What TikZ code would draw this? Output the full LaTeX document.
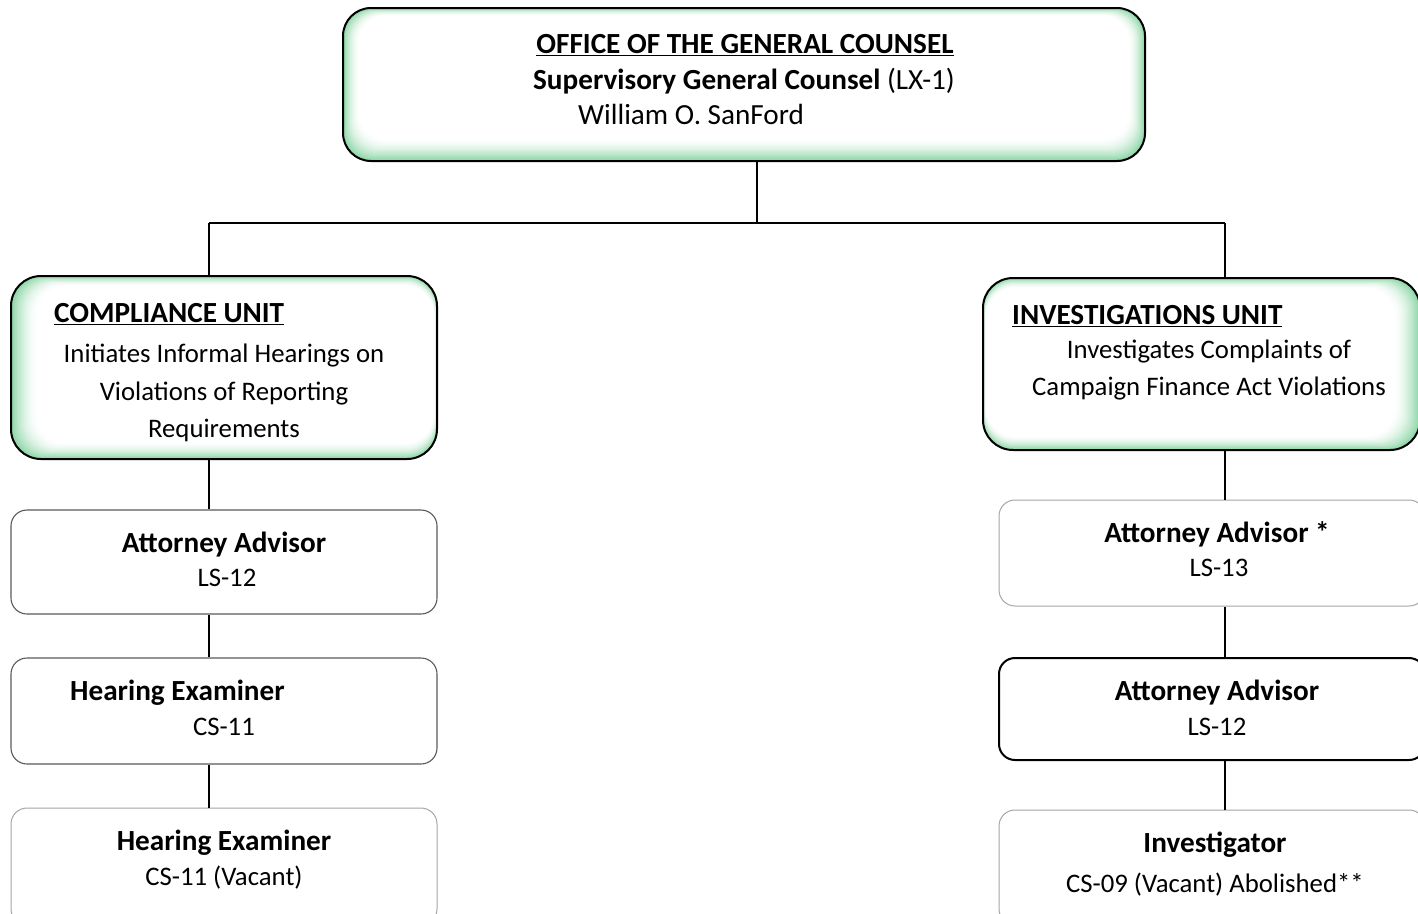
\documentclass[tikz,border=0pt]{standalone}
\usepackage{fontspec}
\setmainfont{Carlito}
\definecolor{glowgreen}{RGB}{140,214,166}
\definecolor{thinedge}{RGB}{90,90,90}
\definecolor{paleedge}{RGB}{165,165,165}

% Inner green glow: nested rounded rectangles fading to white.
% #1..#4 = left, top, right, bottom ; #5..#8 = glow depth left, top, right, bottom ; #9 = corner radius
\newcommand\glowlayers[9]{%
  \foreach \i in {0,...,18}{%
    \pgfmathsetmacro\glowpct{100*(1-\i/18)^1.7}
    \fill[glowgreen!\glowpct!white, rounded corners=#9]
      ({#1+\i*#5/18},{#2+\i*#6/18}) rectangle ({#3-\i*#7/18},{#4-\i*#8/18});
  }}

\tikzset{
  wire/.style={draw=black, line width=1.5pt},
  glowframe/.style={draw=black, line width=2pt, rounded corners=28pt, inner sep=0, fill=none},
  thinbox/.style={draw=thinedge, line width=1.1pt, rounded corners=16pt, inner sep=0, fill=white},
  palebox/.style={draw=paleedge, line width=1pt, rounded corners=16pt, inner sep=0, fill=white},
  darkbox/.style={draw=black, line width=2pt, rounded corners=16pt, inner sep=0, fill=white},
  txt/.style={inner sep=0, anchor=mid, font=\fontsize{26.75}{32}\selectfont},
  bigtxt/.style={txt, font=\fontsize{29.2}{34}\selectfont},
  hd/.style={txt, font=\fontsize{29.2}{34}\selectfont\bfseries},
}

\begin{document}
\begin{tikzpicture}[x=1pt, y=-1pt]
\useasboundingbox (0,0) rectangle (1418,913);
\clip (0,0) rectangle (1418,913);

% junction points of the connector tree
\coordinate (busL) at (209,223);
\coordinate (busM) at (757,223);
\coordinate (busR) at (1225,223);

% ---- Office of the General Counsel ----
\glowlayers{343}{8}{1145}{161}{16}{8}{16}{22}{28pt}
\node[glowframe, minimum width=802pt, minimum height=153pt] (ogc) at (744,84.5) {};
\node[hd] (ogct) at (745,51) {\underline{OFFICE OF THE GENERAL COUNSEL}};
\node[bigtxt] (ogcr) at (744,87) {\textbf{Supervisory General Counsel} (LX-1)};
\node[bigtxt, anchor=mid west] (ogcn) at (578,122) {William O. SanFord};

% ---- Compliance Unit ----
\glowlayers{11}{276}{437}{459}{26}{10}{3}{16}{30pt}
\node[glowframe, rounded corners=30pt, minimum width=426pt, minimum height=183pt] (comp) at (224,367.5) {};
\node[hd, anchor=mid west] (compt) at (54,320) {\underline{COMPLIANCE UNIT}};
\node[txt] (compa) at (224,360) {Initiates Informal Hearings on};
\node[txt] (compb) at (224,398) {Violations of Reporting};
\node[txt] (compc) at (224,435) {Requirements};

% ---- Investigations Unit ----
\glowlayers{983}{278}{1420}{450}{3}{10}{26}{14}{30pt}
\node[glowframe, rounded corners=30pt, minimum width=437pt, minimum height=172pt] (inv) at (1201.5,364) {};
\node[hd, anchor=mid west] (invt) at (1012,322) {\underline{INVESTIGATIONS UNIT}};
\node[txt] (inva) at (1209,356) {Investigates Complaints of};
\node[txt] (invb) at (1209,393) {Campaign Finance Act Violations};

% ---- Compliance staff ----
\node[thinbox, minimum width=426pt, minimum height=104pt] (aaL) at (224,562) {};
\node[hd] (aaLt) at (224,550) {Attorney Advisor};
\node[txt] (aaLg) at (227,584) {LS-12};

\node[thinbox, minimum width=426pt, minimum height=106pt] (heL) at (224,711) {};
\node[hd, anchor=mid west] (heLt) at (70,698) {Hearing Examiner};
\node[txt] (heLg) at (224,733) {CS-11};

\node[palebox, minimum width=426pt, minimum height=117pt] (hvL) at (224,866.5) {};
\node[hd] (hvLt) at (224,848) {Hearing Examiner};
\node[txt] (hvLg) at (224,883) {CS-11 (Vacant)};

% ---- Investigations staff ----
\node[palebox, minimum width=426pt, minimum height=106pt] (aaR) at (1212,553) {};
\node[hd] (aaRt) at (1217,540) {Attorney Advisor *};
\node[txt] (aaRg) at (1219,574) {LS-13};

\node[darkbox, minimum width=426pt, minimum height=102pt] (abR) at (1212,709) {};
\node[hd] (abRt) at (1217,698) {Attorney Advisor};
\node[txt] (abRg) at (1217,733) {LS-12};

\node[palebox, minimum width=426pt, minimum height=115pt] (ivR) at (1212,867.5) {};
\node[hd] (ivRt) at (1215,850) {Investigator};
\node[txt] (ivRg) at (1215,890) {CS-09 (Vacant) Abolished**};

% ---- connectors ----
\draw[wire] (busM |- ogc.south) -- (busM);
\draw[wire] (busL) -- (busR);
\draw[wire] (busL) -- (busL |- comp.north);
\draw[wire] (busR) -- (busR |- inv.north);
\draw[wire] (busL |- comp.south) -- (busL |- aaL.north);
\draw[wire] (busL |- aaL.south) -- (busL |- heL.north);
\draw[wire] (busL |- heL.south) -- (busL |- hvL.north);
\draw[wire] (busR |- inv.south) -- (busR |- aaR.north);
\draw[wire] (busR |- aaR.south) -- (busR |- abR.north);
\draw[wire] (busR |- abR.south) -- (busR |- ivR.north);
\end{tikzpicture}
\end{document}
